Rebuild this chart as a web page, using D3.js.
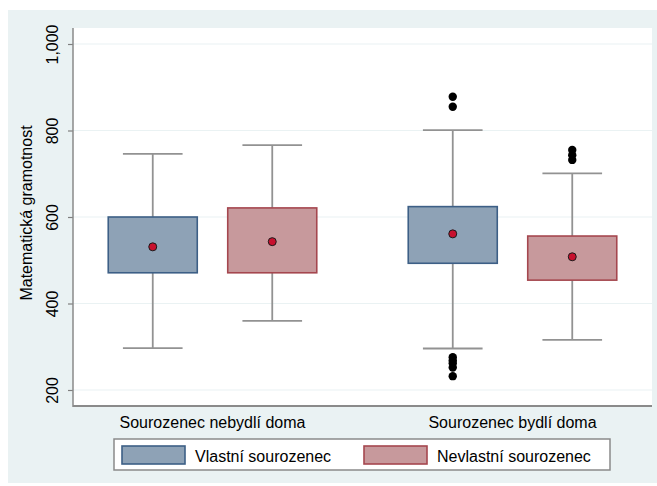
<!DOCTYPE html>
<html>
<head>
<meta charset="utf-8">
<script src="https://cdn.jsdelivr.net/npm/d3@7"></script>
<style>
  html, body { margin: 0; padding: 0; background: #ffffff; }
  svg { display: block; font-family: "Liberation Sans", Arial, sans-serif; }
</style>
</head>
<body>
<svg id="chart" width="657" height="486"></svg>
<script>
// Groups along the x axis and the two series in each group
const groups = ["Sourozenec nebydlí doma", "Sourozenec bydlí doma"];
const series = ["Vlastní sourozenec", "Nevlastní sourozenec"];

// Box statistics per group, in series order
const whiskerLow  = [[297, 360], [296, 316]];
const boxLow      = [[471, 471], [493, 454]];
const boxHigh     = [[600, 621], [624, 556]];
const whiskerHigh = [[746, 766], [801, 701]];
const meanValue   = [[531, 543], [561, 508]];
const outliers    = [[[], []], [[878, 855, 276, 268, 262, 252, 232], [755, 743, 732]]];

const yTicks = [200, 400, 600, 800, 1000];

const W = 657, H = 486;
const svg = d3.select("#chart");

const plot = { left: 73, right: 652, top: 28, bottom: 406 };

const colors = {
  fill:   ["#8ea2b6", "#c7999c"],
  stroke: ["#3d5f86", "#a5474f"],
};

// Graph region background
svg.append("rect").attr("x", 8).attr("y", 10).attr("width", W - 8).attr("height", 473)
  .attr("fill", "#eaf2f3");
// Plot region
svg.append("rect").attr("x", plot.left).attr("y", plot.top)
  .attr("width", plot.right - plot.left).attr("height", plot.bottom - plot.top)
  .attr("fill", "#ffffff");

const y = d3.scaleLinear().domain([163, 1037]).range([plot.bottom, plot.top]);

const xGroup = d3.scalePoint().domain(groups).range([plot.left, plot.right]).padding(0.465);
const xSeries = d3.scaleBand().domain(series).range([-119.5, 119.5]).padding(0);
const boxW = xSeries.bandwidth() * 0.745;
const capW = boxW * 0.67;

// Grid lines
svg.append("g").selectAll("line").data(yTicks).join("line")
  .attr("x1", plot.left).attr("x2", plot.right)
  .attr("y1", d => y(d)).attr("y2", d => y(d))
  .attr("stroke", "#eaf2f3").attr("stroke-width", 1.2);

// Y axis
const yAxis = d3.axisLeft(y).tickValues(yTicks).tickSize(5).tickPadding(4)
  .tickFormat(d3.format(","));
const gy = svg.append("g").attr("transform", `translate(${plot.left},0)`).call(yAxis);
gy.select(".domain").remove();
gy.selectAll(".tick line").attr("stroke", "#7f7f7f").attr("stroke-width", 1.2);
gy.selectAll(".tick text")
  .attr("font-size", 16).attr("fill", "#000")
  .attr("font-family", "Liberation Sans, Arial, sans-serif")
  .attr("transform", "rotate(-90)")
  .attr("x", 0).attr("y", -15)
  .attr("dy", 0)
  .attr("text-anchor", "middle");

svg.append("line").attr("x1", plot.left).attr("x2", plot.left)
  .attr("y1", plot.top).attr("y2", plot.bottom + 1)
  .attr("stroke", "#8a8a8a").attr("stroke-width", 1.5);
svg.append("line").attr("x1", plot.left).attr("x2", plot.right)
  .attr("y1", plot.bottom).attr("y2", plot.bottom)
  .attr("stroke", "#8a8a8a").attr("stroke-width", 1.8);

svg.append("text")
  .attr("transform", `translate(32,${(y(200) + y(1000)) / 2 - 4}) rotate(-90)`)
  .attr("text-anchor", "middle").attr("font-size", 16).attr("fill", "#000")
  .text("Matematická gramotnost");

// Boxes
groups.forEach((g, gi) => {
  series.forEach((s, si) => {
    const cx = xGroup(g) + xSeries(s) + xSeries.bandwidth() / 2;
    const gBox = svg.append("g");
    // whiskers
    gBox.append("line").attr("x1", cx).attr("x2", cx)
      .attr("y1", y(boxHigh[gi][si])).attr("y2", y(whiskerHigh[gi][si]))
      .attr("stroke", "#929292").attr("stroke-width", 1.8);
    gBox.append("line").attr("x1", cx).attr("x2", cx)
      .attr("y1", y(boxLow[gi][si])).attr("y2", y(whiskerLow[gi][si]))
      .attr("stroke", "#929292").attr("stroke-width", 1.8);
    [whiskerHigh[gi][si], whiskerLow[gi][si]].forEach(v => {
      gBox.append("line").attr("x1", cx - capW / 2).attr("x2", cx + capW / 2)
        .attr("y1", y(v)).attr("y2", y(v))
        .attr("stroke", "#929292").attr("stroke-width", 1.8);
    });
    // box
    gBox.append("rect")
      .attr("x", cx - boxW / 2).attr("width", boxW)
      .attr("y", y(boxHigh[gi][si])).attr("height", y(boxLow[gi][si]) - y(boxHigh[gi][si]))
      .attr("fill", colors.fill[si]).attr("stroke", colors.stroke[si]).attr("stroke-width", 1.6);
    // mean marker
    gBox.append("circle").attr("cx", cx).attr("cy", y(meanValue[gi][si])).attr("r", 4)
      .attr("fill", "#c8102e").attr("stroke", "#1a1a1a").attr("stroke-width", 1);
    // outside values
    gBox.selectAll(".out").data(outliers[gi][si]).join("circle")
      .attr("class", "out")
      .attr("cx", cx).attr("cy", d => y(d)).attr("r", 4.2).attr("fill", "#000");
  });
});

// Group labels
svg.append("g").selectAll("text").data(groups).join("text")
  .attr("x", d => xGroup(d)).attr("y", 428)
  .attr("text-anchor", "middle").attr("font-size", 16).attr("fill", "#000")
  .text(d => d);

// Legend
const lg = svg.append("g");
lg.append("rect").attr("x", 114).attr("y", 439).attr("width", 496).attr("height", 31)
  .attr("fill", "#ffffff").attr("stroke", "#8a8a8a").attr("stroke-width", 1.5);
const legendStep = 242;
series.forEach((s, si) => {
  const lx = 122 + si * legendStep;
  lg.append("rect").attr("x", lx).attr("y", 446).attr("width", 63).attr("height", 18)
    .attr("fill", colors.fill[si]).attr("stroke", colors.stroke[si]).attr("stroke-width", 1.6);
  lg.append("text").attr("x", lx + 73).attr("y", 462)
    .attr("font-size", 16).attr("fill", "#000").text(s);
});
</script>
</body>
</html>
